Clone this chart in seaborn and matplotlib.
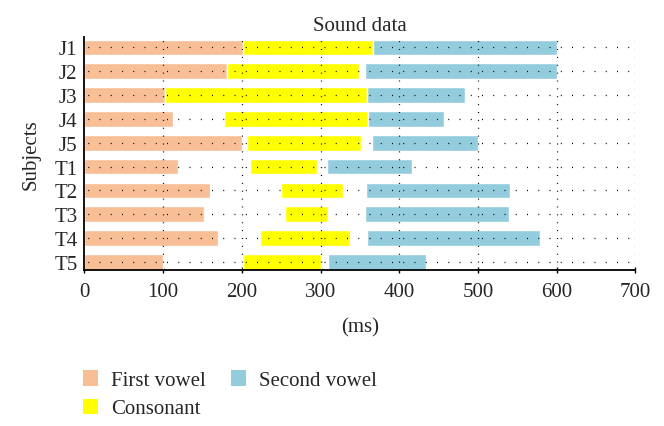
import matplotlib
matplotlib.use("Agg")
import matplotlib.pyplot as plt
from matplotlib.patches import Patch
import seaborn as sns
import pandas as pd

# --- data (ms) ---
subjects = ["J1", "J2", "J3", "J4", "J5", "T1", "T2", "T3", "T4", "T5"]
first_vowel_end = [202, 181, 102, 113, 200, 119, 159, 152, 170, 100]
consonant_start = [202, 181, 102, 178, 207, 211, 250, 255, 223, 201]
consonant_end = [367, 349, 359, 360, 352, 295, 328, 310, 338, 300]
second_vowel_start = [367, 356, 359, 360, 365, 308, 358, 356, 359, 310]
second_vowel_end = [600, 600, 484, 457, 500, 416, 541, 540, 579, 434]

segments = ["First vowel", "Consonant", "Second vowel"]
colors = {"First vowel": "#F8BE95", "Consonant": "#FFFF00", "Second vowel": "#93CDDD"}

df = pd.DataFrame({
    "subject": subjects,
    "fv_end": first_vowel_end,
    "c_start": consonant_start,
    "c_end": consonant_end,
    "sv_start": second_vowel_start,
    "sv_end": second_vowel_end,
})

sns.set_theme(style="white")
plt.rcParams["font.family"] = ["Liberation Serif", "DejaVu Serif"]
FS = 15

fig = plt.figure(figsize=(6.64, 4.27), dpi=100)
ax = fig.add_axes([0.127, 0.365, 0.83, 0.546])

BAR_H = 0.66

# first vowel starts at 0 -> plain seaborn bars
sns.barplot(data=df, x="fv_end", y="subject", order=subjects,
            color=colors["First vowel"], saturation=1, width=BAR_H, ax=ax)

# consonant and second vowel have an onset, so draw them with a left offset
ypos = range(len(subjects))
ax.barh(ypos, df["c_end"] - df["c_start"], left=df["c_start"],
        height=BAR_H, color=colors["Consonant"])
ax.barh(ypos, df["sv_end"] - df["sv_start"], left=df["sv_start"],
        height=BAR_H, color=colors["Second vowel"])

# dotted grid drawn over the bars
ax.grid(False)
for i in ypos:
    ax.plot([0, 700], [i, i], color="black", lw=0.9,
            linestyle=(6, (0.8, 8.2)), zorder=3)
for xv in range(100, 701, 100):
    ax.axvline(xv, color="black", lw=0.9, linestyle=(0, (0.8, 5.5)), zorder=3)

ax.set_xlim(0, 700)
ax.set_ylim(9.35, -0.44)
ax.set_xticks(range(0, 701, 100))

for s in ["top", "right"]:
    ax.spines[s].set_visible(False)
for s in ["left", "bottom"]:
    ax.spines[s].set_color("black")
    ax.spines[s].set_linewidth(1.3)
    ax.spines[s].set_zorder(4)

ax.tick_params(axis="x", direction="inout", length=5, width=1, color="black",
               labelsize=FS, pad=6, bottom=True)
ax.tick_params(axis="y", length=0, labelsize=FS, pad=5)

ax.set_title("Sound data", fontsize=FS, pad=5)
ax.set_xlabel("(ms)", fontsize=FS, labelpad=12)
ax.set_ylabel("Subjects", fontsize=FS, labelpad=10)

handles = [Patch(facecolor=colors[s], edgecolor="none", label=s) for s in segments]
fig.legend(handles=handles, ncol=2, loc="upper left",
           bbox_to_anchor=(0.112, 1 - 363 / 427), frameon=False, fontsize=FS,
           handlelength=0.75, handleheight=0.75, handletextpad=0.6,
           columnspacing=1.2, labelspacing=0.4, borderaxespad=0)

fig.savefig("out.png", dpi=100)
